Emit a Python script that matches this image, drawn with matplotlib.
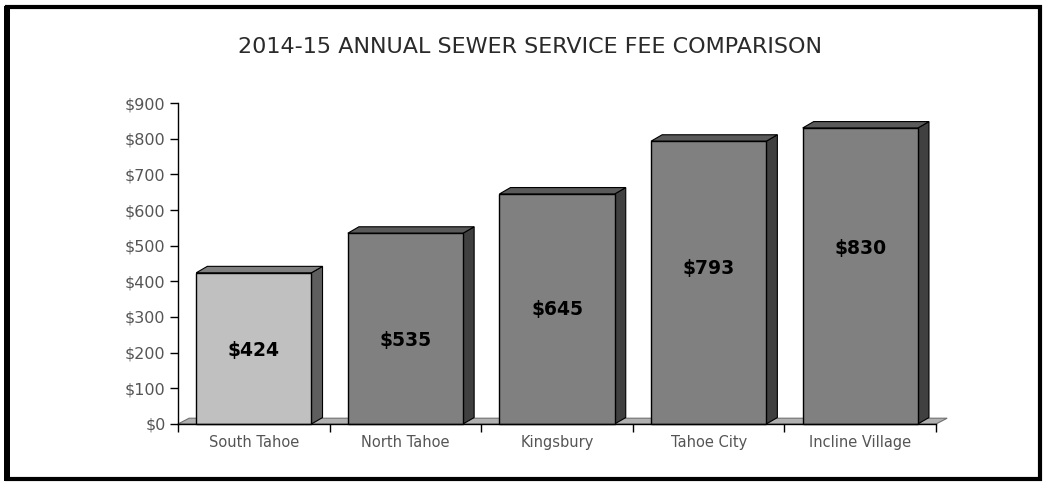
import matplotlib
matplotlib.use("Agg")
import matplotlib.pyplot as plt
from matplotlib.patches import Polygon, Rectangle

title = "2014-15 ANNUAL SEWER SERVICE FEE COMPARISON"
districts = ["South Tahoe", "North Tahoe", "Kingsbury", "Tahoe City", "Incline Village"]
fees = [424, 535, 645, 793, 830]
fee_labels = ["$424", "$535", "$645", "$793", "$830"]
label_y = [207, 233, 322, 437, 491]
yticks = [0, 100, 200, 300, 400, 500, 600, 700, 800, 900]
ytick_labels = ["$0", "$100", "$200", "$300", "$400", "$500", "$600", "$700", "$800", "$900"]

face_cols = ["#c0c0c0", "#808080", "#808080", "#808080", "#808080"]
side_cols = ["#5e5e5e", "#404040", "#404040", "#404040", "#404040"]
top_cols = ["#808080", "#5a5a5a", "#5a5a5a", "#5a5a5a", "#5a5a5a"]

plt.rcParams['font.family'] = ['DejaVu Sans']

fig = plt.figure(figsize=(10.43, 4.83), dpi=100)

# outer frame, left side drawn heavier like the original
fig.patches.append(Rectangle((0.007, 0.008), 0.99, 0.978, transform=fig.transFigure,
                             fill=False, edgecolor="black", linewidth=3.0))
fig.patches.append(Rectangle((0.004, 0.004), 0.006, 0.984, transform=fig.transFigure,
                             facecolor="black", edgecolor="none"))

fig.text(0.508, 0.902, title, ha="center", va="center", fontsize=16, color="#2a2a2a")

ax = fig.add_axes([0.1707, 0.1222, 0.7268, 0.6645])
ax.set_xlim(-0.5, 4.5)
ax.set_ylim(0, 900)

w = 0.76
dx = 0.073  # depth in category units
dy = 18     # depth in dollars

# floor
fl = Polygon([(-0.5, 0), (4.5, 0), (4.5 + dx, dy * 0.9), (-0.5 + dx, dy * 0.9)],
             closed=True, facecolor="#b0b0b0", edgecolor="#707070", linewidth=0.8,
             clip_on=False, zorder=1)
ax.add_patch(fl)

for i, v in enumerate(fees):
    x0 = i - w / 2
    x1 = i + w / 2
    side = Polygon([(x1, 0), (x1 + dx, dy), (x1 + dx, v + dy), (x1, v)], closed=True,
                   facecolor=side_cols[i], edgecolor="black", linewidth=0.8, zorder=2, clip_on=False)
    top = Polygon([(x0, v), (x0 + dx, v + dy), (x1 + dx, v + dy), (x1, v)], closed=True,
                  facecolor=top_cols[i], edgecolor="black", linewidth=0.8, zorder=2, clip_on=False)
    front = Rectangle((x0, 0), w, v, facecolor=face_cols[i], edgecolor="black",
                      linewidth=1.0, zorder=3, clip_on=False)
    ax.add_patch(side)
    ax.add_patch(top)
    ax.add_patch(front)
    ax.text(i, label_y[i], fee_labels[i], ha="center", va="center", fontsize=13.5,
            fontweight="bold", color="black", zorder=4)

for s in ["top", "right"]:
    ax.spines[s].set_visible(False)
ax.spines["left"].set_linewidth(1.0)
ax.spines["bottom"].set_linewidth(1.0)
ax.spines["left"].set_zorder(5)
ax.spines["bottom"].set_zorder(5)

ax.set_yticks(yticks)
ax.set_yticklabels(ytick_labels, fontsize=11.5, color="#555555")
ax.tick_params(axis="y", direction="out", length=6, width=1, pad=3)

ax.set_xticks([-0.5, 0.5, 1.5, 2.5, 3.5, 4.5])
ax.set_xticklabels([])
ax.set_xticks(range(len(districts)), minor=True)
ax.set_xticklabels(districts, minor=True, fontsize=10.5, color="#555555")
ax.tick_params(axis="x", which="major", direction="out", length=6, width=1)
ax.tick_params(axis="x", which="minor", length=0, pad=8)

fig.savefig("out.png", dpi=100)
